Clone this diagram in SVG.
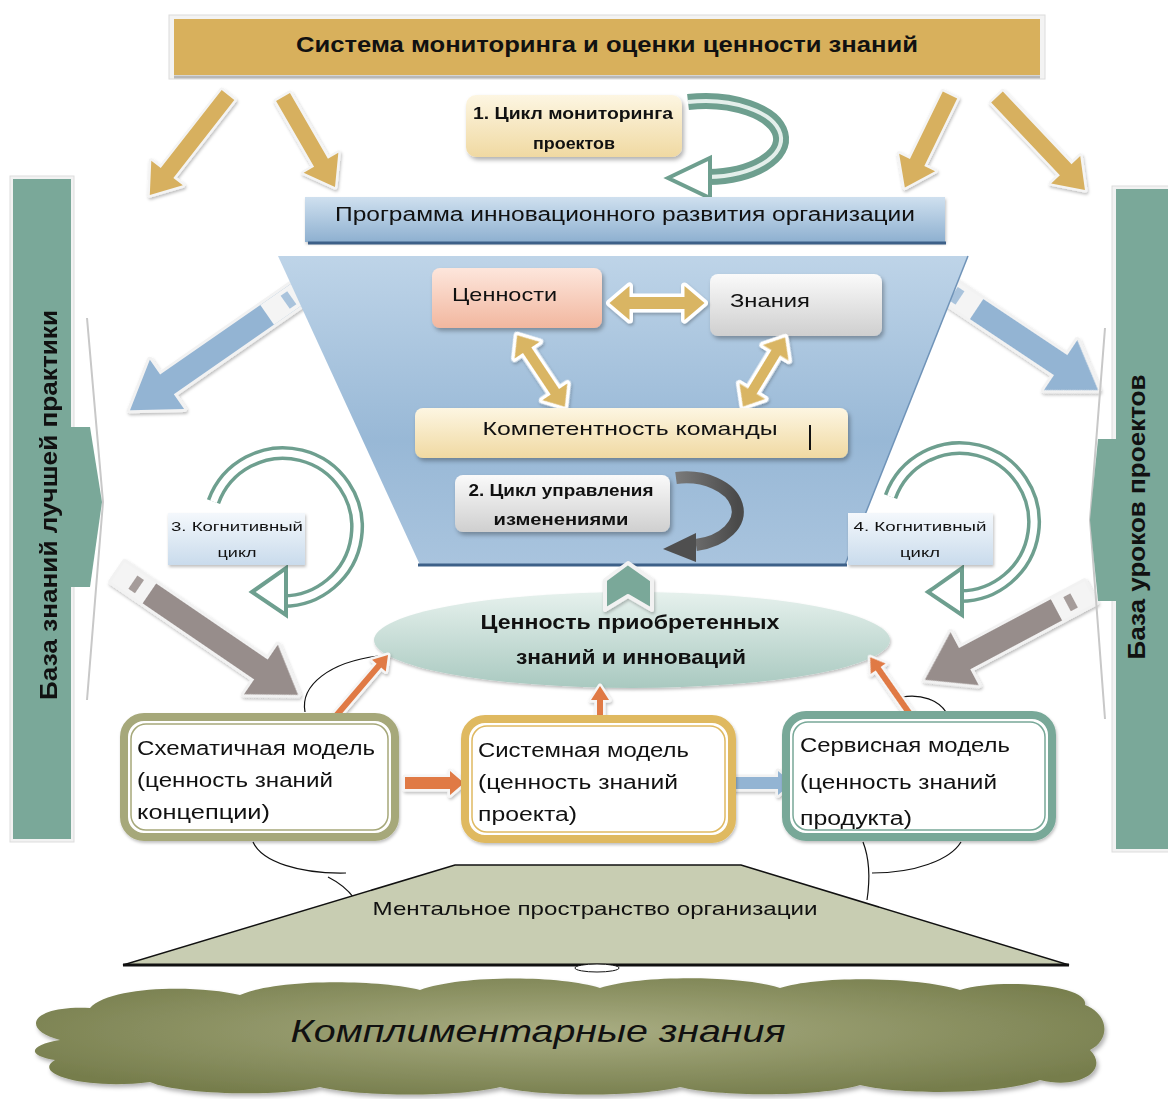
<svg xmlns="http://www.w3.org/2000/svg" width="1168" height="1099" viewBox="0 0 1168 1099">
<defs>
<linearGradient id="gCream" x1="0" y1="0" x2="0" y2="1"><stop offset="0" stop-color="#fdf6e2"/><stop offset="1" stop-color="#f0d9a2"/></linearGradient>
<linearGradient id="gGrey" x1="0" y1="0" x2="0" y2="1"><stop offset="0" stop-color="#fafafa"/><stop offset="1" stop-color="#cfcfcf"/></linearGradient>
<linearGradient id="gPeach" x1="0" y1="0" x2="0" y2="1"><stop offset="0" stop-color="#fde6dc"/><stop offset="1" stop-color="#f2b79f"/></linearGradient>
<linearGradient id="gBlueBar" x1="0" y1="0" x2="0" y2="1"><stop offset="0" stop-color="#cfe0ef"/><stop offset="1" stop-color="#8eb0d0"/></linearGradient>
<linearGradient id="gTrap" x1="0" y1="0" x2="0" y2="1"><stop offset="0" stop-color="#bed4e8"/><stop offset="0.6" stop-color="#98b8d6"/><stop offset="1" stop-color="#a9c4de"/></linearGradient>
<linearGradient id="gLabel" x1="0" y1="0" x2="0" y2="1"><stop offset="0" stop-color="#f4f8fc"/><stop offset="1" stop-color="#c9dbec"/></linearGradient>
<linearGradient id="gEll" x1="0" y1="0" x2="0" y2="1"><stop offset="0" stop-color="#e6f1ed"/><stop offset="1" stop-color="#a9c9c0"/></linearGradient>
<radialGradient id="gCloud" cx="0.5" cy="0.45" r="0.6"><stop offset="0" stop-color="#a9ad82"/><stop offset="1" stop-color="#767d4c"/></radialGradient>
<linearGradient id="gDark" x1="0" y1="0" x2="1" y2="0"><stop offset="0" stop-color="#7a7a7a"/><stop offset="1" stop-color="#4a4a4a"/></linearGradient>
<filter id="sh" x="-10%" y="-10%" width="130%" height="140%"><feDropShadow dx="2" dy="3" stdDeviation="2" flood-color="#000" flood-opacity="0.3"/></filter>
<filter id="shs" x="-20%" y="-20%" width="140%" height="140%"><feDropShadow dx="1" dy="2" stdDeviation="1.5" flood-color="#000" flood-opacity="0.25"/></filter>
</defs>
<style>
text{font-family:"Liberation Sans",Arial,sans-serif;fill:#111}
.b{font-weight:bold}
.gold{fill:#d7b05e;stroke:#f4f4f4;stroke-width:5;paint-order:stroke;stroke-linejoin:round}
.blue{fill:#93b4d3;stroke:#f2f2f2;stroke-width:6;paint-order:stroke;stroke-linejoin:round}
.gr{fill:#978d8b;stroke:#f2f2f2;stroke-width:6;paint-order:stroke;stroke-linejoin:round}
.dbl{fill:#d9b563;stroke:#ffffff;stroke-width:7;paint-order:stroke;stroke-linejoin:round}
.or{fill:#e07a45;stroke:#f6f6f6;stroke-width:5;paint-order:stroke;stroke-linejoin:round}
.ringO{fill:none;stroke:#6e9f8f;stroke-width:14}
.ringI{fill:none;stroke:#ffffff;stroke-width:7}
.head{fill:#ffffff;stroke:#6e9f8f;stroke-width:4;stroke-linejoin:miter}
.thin{fill:none;stroke:#111;stroke-width:1.2}
</style>

<g id="connectors">
<g filter="url(#shs)">
<polygon class="gold" transform="translate(228,95) rotate(128)" points="0,-8 99,-8 99,-20 127,0 99,20 99,8 0,8"/>
<polygon class="gold" transform="translate(283,97) rotate(60)" points="0,-8 76,-8 76,-20 104,0 76,20 76,8 0,8"/>
<polygon class="gold" transform="translate(950,95) rotate(116)" points="0,-8 75,-8 75,-20 103,0 75,20 75,8 0,8"/>
<polygon class="gold" transform="translate(997,97) rotate(46.6)" points="0,-8 100,-8 100,-20 128,0 100,20 100,8 0,8"/>
</g>
<path d="M 688 102 A 76 38 0 1 1 708 177" fill="none" stroke="#6e9f8f" stroke-width="16"/>
<path d="M 688 102 A 76 38 0 1 1 708 177" fill="none" stroke="#e4efeb" stroke-width="4"/>
<polygon class="head" points="668,178 710,158 710,198"/>
<g filter="url(#shs)">
<g transform="translate(300,292) rotate(145.2)">
<polygon class="blue" points="0,-12 162,-12 162,-30 207,0 162,30 162,12 0,12"/>
<rect x="0" y="-12" width="40" height="24" fill="#f4f4f4"/>
<rect x="10" y="-8" width="8" height="16" fill="#a9c3dc"/>
</g>
<g transform="translate(945,288) rotate(33.7)">
<polygon class="blue" points="0,-12 139,-12 139,-30 184,0 139,30 139,12 0,12"/>
<rect x="0" y="-12" width="38" height="24" fill="#f4f4f4"/>
<rect x="10" y="-8" width="8" height="16" fill="#a9c3dc"/>
</g>
<g transform="translate(118,572) rotate(34.3)">
<polygon class="gr" points="0,-12 173,-12 173,-30 218,0 173,30 173,12 0,12"/>
<rect x="0" y="-12" width="38" height="24" fill="#f4f4f4"/>
<rect x="18" y="-8" width="8" height="16" fill="#a59c9a"/>
</g>
<g transform="translate(1090,592) rotate(152)">
<polygon class="gr" points="0,-12 142,-12 142,-30 187,0 142,30 142,12 0,12"/>
<rect x="0" y="-12" width="38" height="24" fill="#f4f4f4"/>
<rect x="18" y="-8" width="8" height="16" fill="#a59c9a"/>
</g>
</g>
<path class="ringO" d="M 213.5 501.7 A 74 74 0 1 1 280.4 601"/>
<path class="ringI" d="M 213.5 501.7 A 74 74 0 1 1 280.4 601"/>
<polygon class="head" points="252,592 286,568 286,615"/>
<path class="ringO" d="M 890.5 496.7 A 74 74 0 1 1 957.4 596"/>
<path class="ringI" d="M 890.5 496.7 A 74 74 0 1 1 957.4 596"/>
<polygon class="head" points="928,592 962,568 962,615"/>
<path class="thin" d="M 305 712 C 300 685 330 662 378 656"/>
<path class="thin" d="M 902 697 C 922 694 938 700 946 712"/>
<path class="thin" d="M 253 842 C 262 862 300 874 346 873"/>
<path class="thin" d="M 328 877 C 338 882 348 890 354 898"/>
<path class="thin" d="M 863 842 C 870 860 870 880 867 900"/>
<path class="thin" d="M 961 842 C 950 860 915 873 872 873"/>
</g>

<g id="top-bar">
<rect x="169" y="15" width="876" height="64" fill="#f3f3f3" stroke="#dcdcdc" stroke-width="1"/>
<rect x="174" y="19" width="866" height="56" fill="#d8b05c"/>
<line x1="174" y1="77" x2="1040" y2="77" stroke="#b8b8b8" stroke-width="3"/>
<text x="607" y="52" text-anchor="middle" class="b" font-size="22" textLength="622" lengthAdjust="spacingAndGlyphs">Система мониторинга и оценки ценности знаний</text>
</g>

<g id="cycle1">
<rect x="466" y="95" width="216" height="62" rx="10" fill="url(#gCream)" filter="url(#sh)"/>
<text x="573" y="119" text-anchor="middle" class="b" font-size="16" textLength="200" lengthAdjust="spacingAndGlyphs">1. Цикл мониторинга</text>
<text x="574" y="149" text-anchor="middle" class="b" font-size="16" textLength="82" lengthAdjust="spacingAndGlyphs">проектов</text>
</g>

<g id="program">
<rect x="305" y="197" width="640" height="45" fill="url(#gBlueBar)" filter="url(#shs)"/>
<line x1="308" y1="243" x2="946" y2="243" stroke="#3d6088" stroke-width="3"/>
<text x="625" y="221" text-anchor="middle" font-size="20" textLength="580" lengthAdjust="spacingAndGlyphs">Программа инновационного развития организации</text>
</g>

<g id="funnel">
<polygon points="278,256 968,256 845,565 420,565" fill="url(#gTrap)"/>
<line x1="968" y1="256" x2="845" y2="565" stroke="#6f93b8" stroke-width="1.5"/>
<line x1="418" y1="565" x2="847" y2="565" stroke="#3d6088" stroke-width="3"/>
</g>

<g id="values">
<rect x="432" y="268" width="170" height="60" rx="8" fill="url(#gPeach)" filter="url(#sh)"/>
<text x="452" y="301" font-size="19" textLength="105" lengthAdjust="spacingAndGlyphs">Ценности</text>
</g>
<g id="knowledge">
<rect x="710" y="274" width="172" height="62" rx="8" fill="url(#gGrey)" filter="url(#sh)"/>
<text x="730" y="307" font-size="19" textLength="80" lengthAdjust="spacingAndGlyphs">Знания</text>
</g>
<g id="double-arrows" filter="url(#shs)">
<polygon class="dbl" transform="translate(657,303)" points="-47.5,0 -27.5,-17 -27.5,-6 27.5,-6 27.5,-17 47.5,0 27.5,17 27.5,6 -27.5,6 -27.5,17"/>
<polygon class="dbl" transform="translate(541,371) rotate(56.3)" points="-43,0 -25,-15 -25,-5 25,-5 25,-15 43,0 25,15 25,5 -25,5 -25,15"/>
<polygon class="dbl" transform="translate(764,372) rotate(121.3)" points="-40.5,0 -22.5,-15 -22.5,-5 22.5,-5 22.5,-15 40.5,0 22.5,15 22.5,5 -22.5,5 -22.5,15"/>
</g>
<g id="competence">
<rect x="415" y="408" width="433" height="50" rx="8" fill="url(#gCream)" filter="url(#sh)"/>
<text x="630" y="435" text-anchor="middle" font-size="19" textLength="295" lengthAdjust="spacingAndGlyphs">Компетентность команды</text>
<line x1="810" y1="425" x2="810" y2="450" stroke="#111" stroke-width="2"/>
</g>

<g id="cycle2">
<path d="M 676 478 A 50 33 0 1 1 696 545" fill="none" stroke="url(#gDark)" stroke-width="12"/>
<polygon points="663,549 696,533 696,562" fill="#4f4f4f"/>
<rect x="455" y="475" width="215" height="57" rx="8" fill="url(#gGrey)" filter="url(#sh)"/>
<text x="561" y="496" text-anchor="middle" class="b" font-size="16" textLength="185" lengthAdjust="spacingAndGlyphs">2. Цикл управления</text>
<text x="561" y="525" text-anchor="middle" class="b" font-size="16" textLength="135" lengthAdjust="spacingAndGlyphs">изменениями</text>
</g>

<g id="left-base">
<polyline points="87,318 103,502 87,700" fill="none" stroke="#c8c8c8" stroke-width="2"/>
<rect x="10" y="176" width="64" height="666" fill="#f2f2f2" stroke="#dddddd"/>
<rect x="13" y="179" width="58" height="660" fill="#7aa899"/>
<polygon points="70,427 90,427 102,502 90,587 70,587" fill="#7aa899"/>
<text transform="translate(57,505) rotate(-90)" text-anchor="middle" class="b" font-size="24" textLength="390" lengthAdjust="spacingAndGlyphs">База знаний лучшей практики</text>
</g>

<g id="right-base">
<polyline points="1105,328 1090,520 1105,719" fill="none" stroke="#c8c8c8" stroke-width="2"/>
<rect x="1112" y="186" width="70" height="666" fill="#f2f2f2" stroke="#dddddd"/>
<rect x="1116" y="189" width="62" height="660" fill="#7aa899"/>
<polygon points="1120,439 1098,439 1090,520 1098,601 1120,601" fill="#7aa899"/>
<text transform="translate(1145,517) rotate(-90)" text-anchor="middle" class="b" font-size="24" textLength="285" lengthAdjust="spacingAndGlyphs">База уроков проектов</text>
</g>

<g id="cycle3-label">
<rect x="168" y="513" width="137" height="52" fill="url(#gLabel)" filter="url(#shs)"/>
<text x="237" y="531" text-anchor="middle" font-size="13" textLength="132" lengthAdjust="spacingAndGlyphs">3. Когнитивный</text>
<text x="237" y="557" text-anchor="middle" font-size="13" textLength="39" lengthAdjust="spacingAndGlyphs">цикл</text>
</g>
<g id="cycle4-label">
<rect x="848" y="513" width="145" height="52" fill="url(#gLabel)" filter="url(#shs)"/>
<text x="920" y="531" text-anchor="middle" font-size="13" textLength="133" lengthAdjust="spacingAndGlyphs">4. Когнитивный</text>
<text x="920" y="557" text-anchor="middle" font-size="13" textLength="40" lengthAdjust="spacingAndGlyphs">цикл</text>
</g>

<g id="value-ellipse">
<ellipse cx="632" cy="640" rx="258" ry="48" fill="url(#gEll)" filter="url(#shs)"/>
<text x="630" y="629" text-anchor="middle" class="b" font-size="20" textLength="299" lengthAdjust="spacingAndGlyphs">Ценность приобретенных</text>
<text x="631" y="664" text-anchor="middle" class="b" font-size="20" textLength="230" lengthAdjust="spacingAndGlyphs">знаний и инноваций</text>
</g>

<g id="up-chevron">
<polygon points="628,563 652,580 652,610 628,596 605,610 605,580" fill="#7aa899" stroke="#f2f2f2" stroke-width="4" stroke-linejoin="round" filter="url(#shs)"/>
</g>

<g id="model-arrows" filter="url(#shs)">
<polygon class="or" transform="translate(335,717) rotate(-49.5)" points="0,-3 67.6,-3 67.6,-9 81.6,0 67.6,9 67.6,3 0,3"/>
<polygon class="or" transform="translate(600,722) rotate(-90)" points="0,-3 22,-3 22,-9 36,0 22,9 22,3 0,3"/>
<polygon class="or" transform="translate(912,717) rotate(-125)" points="0,-3 59,-3 59,-9 73,0 59,9 59,3 0,3"/>
<polygon class="or" points="405,777 450,777 450,771 464,783 450,795 450,789 405,789"/>
<polygon class="blue" style="stroke-width:5" points="733,777 778,777 778,771 792,783 778,795 778,789 733,789"/>
</g>

<g id="schematic-model">
<rect x="124" y="717" width="271" height="120" rx="20" fill="#fff" stroke="#a6a87a" stroke-width="8" filter="url(#shs)"/>
<rect x="131" y="724" width="257" height="106" rx="15" fill="none" stroke="#a6a87a" stroke-width="1.5"/>
<text x="137" y="755" font-size="20" textLength="238" lengthAdjust="spacingAndGlyphs">Схематичная модель</text>
<text x="137" y="787" font-size="20" textLength="196" lengthAdjust="spacingAndGlyphs">(ценность знаний</text>
<text x="137" y="819" font-size="20" textLength="133" lengthAdjust="spacingAndGlyphs">концепции)</text>
</g>
<g id="system-model">
<rect x="465" y="719" width="267" height="120" rx="20" fill="#fff" stroke="#dfb961" stroke-width="8" filter="url(#shs)"/>
<rect x="472" y="726" width="253" height="106" rx="15" fill="none" stroke="#dfb961" stroke-width="1.5"/>
<text x="478" y="757" font-size="20" textLength="211" lengthAdjust="spacingAndGlyphs">Системная модель</text>
<text x="478" y="789" font-size="20" textLength="200" lengthAdjust="spacingAndGlyphs">(ценность знаний</text>
<text x="478" y="821" font-size="20" textLength="99" lengthAdjust="spacingAndGlyphs">проекта)</text>
</g>
<g id="service-model">
<rect x="786" y="715" width="266" height="122" rx="20" fill="#fff" stroke="#78a898" stroke-width="8" filter="url(#shs)"/>
<rect x="793" y="722" width="252" height="108" rx="15" fill="none" stroke="#78a898" stroke-width="1.5"/>
<text x="800" y="752" font-size="20" textLength="210" lengthAdjust="spacingAndGlyphs">Сервисная модель</text>
<text x="800" y="789" font-size="20" textLength="197" lengthAdjust="spacingAndGlyphs">(ценность знаний</text>
<text x="800" y="825" font-size="20" textLength="112" lengthAdjust="spacingAndGlyphs">продукта)</text>
</g>

<g id="mental-space">
<polygon points="455,865 741,865 1069,965 123,965" fill="#c8cdb2" stroke="#111" stroke-width="1.5"/>
<line x1="123" y1="965" x2="1069" y2="965" stroke="#111" stroke-width="3"/>
<ellipse cx="597" cy="968" rx="22" ry="4" fill="#fff" stroke="#111" stroke-width="1"/>
<text x="595" y="915" text-anchor="middle" font-size="19" textLength="445" lengthAdjust="spacingAndGlyphs">Ментальное пространство организации</text>
</g>

<g id="complementary">
<path d="M 60 1040 C 20 1030 30 1005 90 1008 C 110 985 200 985 240 995 C 280 978 380 980 420 990 C 460 975 560 975 600 988 C 640 975 740 975 780 988 C 820 975 920 977 960 990 C 1000 978 1090 985 1085 1005 C 1110 1015 1110 1040 1090 1050 C 1110 1070 1080 1090 1040 1080 C 1000 1095 900 1095 860 1085 C 820 1097 720 1097 680 1087 C 640 1097 540 1097 500 1087 C 460 1097 360 1097 320 1087 C 280 1097 180 1095 150 1082 C 90 1090 30 1075 55 1060 C 25 1055 30 1045 60 1040 Z" fill="url(#gCloud)" filter="url(#sh)"/>
<text x="538" y="1042" text-anchor="middle" font-style="italic" font-size="32" textLength="495" lengthAdjust="spacingAndGlyphs">Комплиментарные знания</text>
</g>
</svg>
